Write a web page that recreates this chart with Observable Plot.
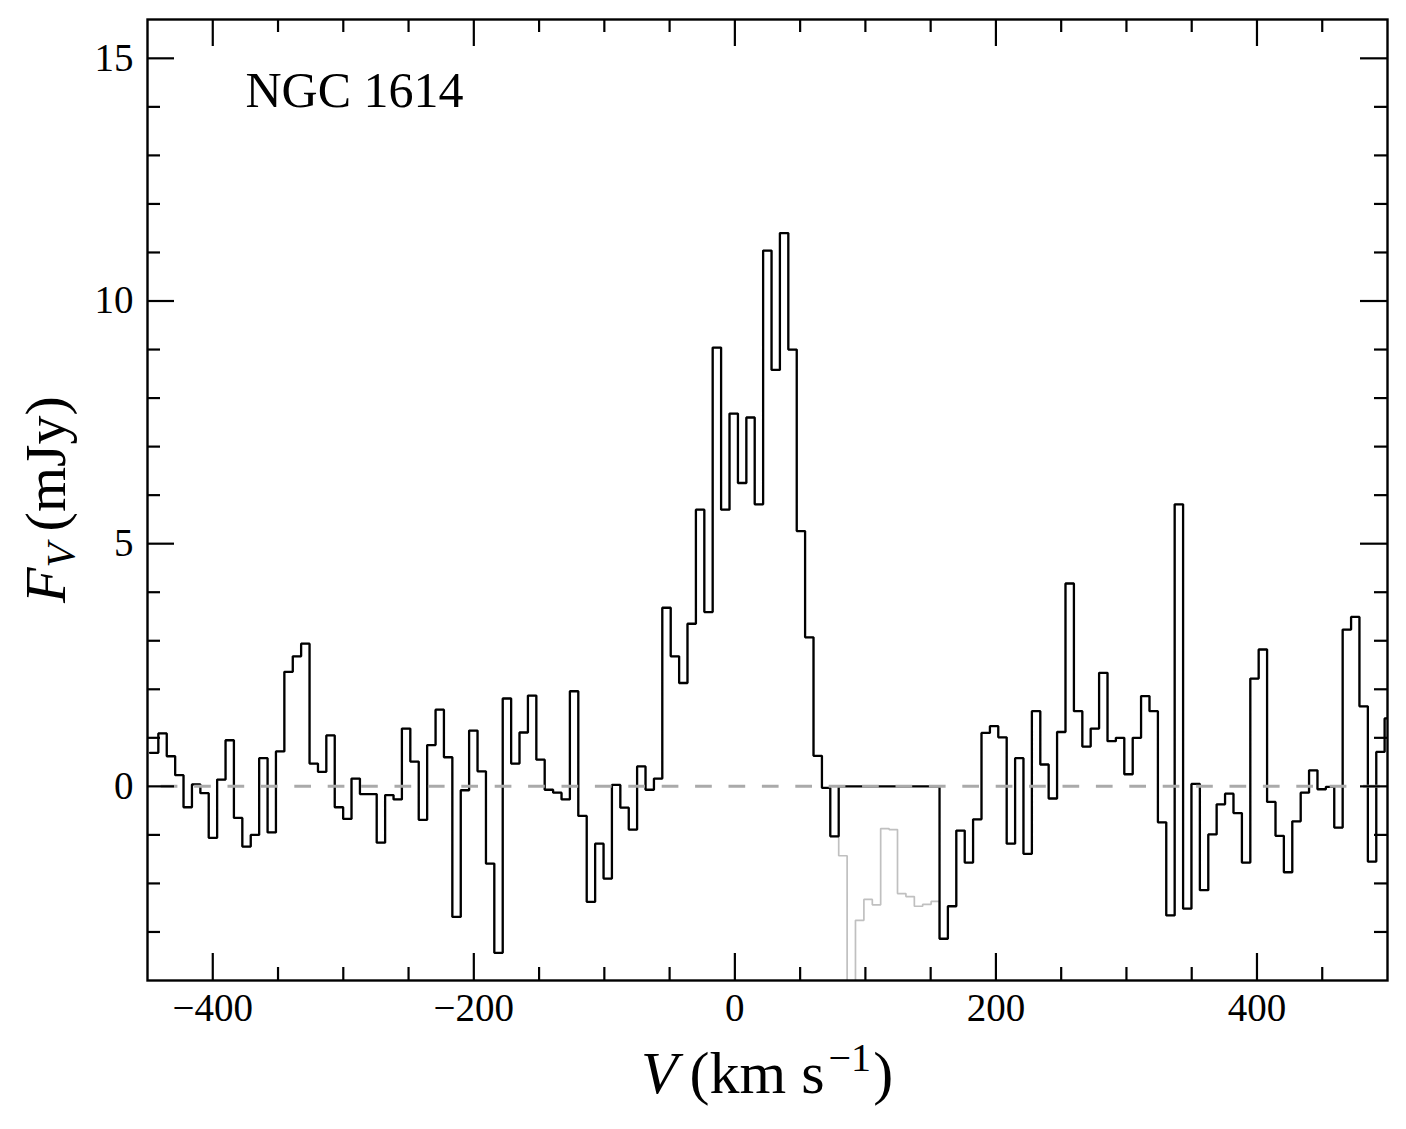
<!DOCTYPE html>
<html>
<head>
<meta charset="utf-8">
<script src="https://cdn.jsdelivr.net/npm/d3@7"></script>
<script src="https://cdn.jsdelivr.net/npm/@observablehq/plot@0.6"></script>
<style>
  html, body { margin: 0; padding: 0; background: #fff; }
  svg { display: block; }
</style>
</head>
<body>
<div id="chart"></div>
<script>
// Channel centre velocities (km/s)
const velocity = [
  -444.9, -438.5, -432.0, -425.6, -419.2, -412.7, -406.3, -399.9, -393.4, -387.0,
  -380.6, -374.1, -367.7, -361.2, -354.8, -348.4, -341.9, -335.5, -329.1, -322.6,
  -316.2, -309.8, -303.3, -296.9, -290.5, -284.0, -277.6, -271.2, -264.7, -258.3,
  -251.9, -245.4, -239.0, -232.5, -226.1, -219.7, -213.2, -206.8, -200.4, -193.9,
  -187.5, -181.1, -174.6, -168.2, -161.8, -155.3, -148.9, -142.5, -136.0, -129.6,
  -123.2, -116.7, -110.3, -103.8, -97.4, -91.0, -84.5, -78.1, -71.7, -65.2,
  -58.8, -52.4, -45.9, -39.5, -33.1, -26.6, -20.2, -13.8, -7.3, -0.9,
  5.6, 12.0, 18.4, 24.9, 31.3, 37.7, 44.2, 50.6, 57.0, 63.5,
  69.9, 76.3, 82.8, 89.2, 95.6, 102.1, 108.5, 114.9, 121.4, 127.8,
  134.3, 140.7, 147.1, 153.6, 160.0, 166.4, 172.9, 179.3, 185.7, 192.2,
  198.6, 205.0, 211.5, 217.9, 224.3, 230.8, 237.2, 243.6, 250.1, 256.5,
  263.0, 269.4, 275.8, 282.3, 288.7, 295.1, 301.6, 308.0, 314.4, 320.9,
  327.3, 333.7, 340.2, 346.6, 353.0, 359.5, 365.9, 372.3, 378.8, 385.2,
  391.7, 398.1, 404.5, 411.0, 417.4, 423.8, 430.3, 436.7, 443.1, 449.6,
  456.0, 462.4, 468.9, 475.3, 481.7, 488.2, 494.6, 501.0
];

// Observed flux density per channel (mJy), before masking
const flux = [
  0.69, 1.09, 0.62, 0.23, -0.43, 0.04, -0.14, -1.06, 0.14, 0.95,
  -0.65, -1.24, -1.00, 0.58, -0.95, 0.72, 2.36, 2.68, 2.94, 0.47,
  0.30, 1.05, -0.43, -0.67, 0.16, -0.16, -0.16, -1.16, -0.18, -0.27,
  1.19, 0.51, -0.69, 0.85, 1.58, 0.60, -2.69, -0.08, 1.15, 0.31,
  -1.59, -3.43, 1.81, 0.47, 1.11, 1.87, 0.55, -0.07, -0.13, -0.27,
  1.96, -0.61, -2.38, -1.18, -1.90, 0.03, -0.44, -0.89, 0.41, -0.07,
  0.16, 3.68, 2.68, 2.13, 3.35, 5.70, 3.59, 9.04, 5.70, 7.68,
  6.25, 7.60, 5.81, 11.04, 8.58, 11.40, 9.00, 5.26, 3.07, 0.63,
  -0.03, -1.03, -1.43, -6.00, -2.76, -2.33, -2.44, -0.87, -0.89, -2.21,
  -2.27, -2.47, -2.43, -2.37, -3.14, -2.47, -0.91, -1.57, -0.68, 1.10,
  1.24, 1.01, -1.18, 0.58, -1.39, 1.55, 0.45, -0.25, 1.12, 4.18,
  1.55, 0.82, 1.19, 2.34, 0.93, 1.00, 0.25, 1.00, 1.86, 1.55,
  -0.74, -2.66, 5.81, -2.52, 0.05, -2.14, -0.99, -0.37, -0.15, -0.55,
  -1.57, 2.22, 2.82, -0.32, -1.02, -1.77, -0.72, -0.13, 0.33, -0.06,
  -0.01, -0.85, 3.23, 3.49, 1.65, -1.55, 0.71, 1.40
];

// Channels (first and last index) that are masked (set to zero in the black spectrum)
const maskedChannels = [82, 93];

const xMajorTicks = [-400, -200, 0, 200, 400];
const xMinorTicks = [-350, -300, -250, -150, -100, -50, 50, 100, 150, 250, 300, 350, 450];
const yMajorTicks = [0, 5, 10, 15];
const yMinorTicks = [-3, -2, -1, 1, 2, 3, 4, 6, 7, 8, 9, 11, 12, 13, 14];

const galaxyName = "NGC 1614";

// ---------- layout ----------
const W = 1406, H = 1129;
const mL = 147, mR = 19, mT = 19, mB = 149;
const plotW = W - mL - mR, plotH = H - mT - mB;
const serif = "'Liberation Serif', 'Times New Roman', Times, serif";
const majorLen = 27, minorLen = 13;

const maskedFlux = flux.map((f, i) => (i >= maskedChannels[0] && i <= maskedChannels[1]) ? 0 : f);

function stepPoints(v, f) {
  const pts = [];
  for (let i = 0; i < v.length; i++) {
    const left = i === 0 ? v[0] - (v[1] - v[0]) / 2 : (v[i - 1] + v[i]) / 2;
    const right = i === v.length - 1 ? v[i] + (v[i] - v[i - 1]) / 2 : (v[i] + v[i + 1]) / 2;
    pts.push({x: left, y: f[i]}, {x: right, y: f[i]});
  }
  return pts;
}

const rawSteps = stepPoints(velocity, flux);
const maskedSteps = stepPoints(velocity, maskedFlux);

const tickStyle = {stroke: "black", strokeWidth: 2.2};

const chart = Plot.plot({
  width: W,
  height: H,
  marginLeft: mL,
  marginRight: mR,
  marginTop: mT,
  marginBottom: mB,
  x: {domain: [-450, 500], label: null},
  y: {domain: [-4, 15.8], label: null},
  style: {fontFamily: serif, background: "white", color: "black"},
  marks: [
    Plot.line(rawSteps, {x: "x", y: "y", stroke: "#c0c0c0", strokeWidth: 1.7, clip: true, strokeLinejoin: "miter", curve: "linear"}),
    Plot.line(maskedSteps, {x: "x", y: "y", stroke: "black", strokeWidth: 2.3, clip: true, strokeLinejoin: "miter", curve: "linear"}),
    Plot.ruleY([0], {stroke: "#aaaaaa", strokeWidth: 3, strokeDasharray: "16.7,16.7", strokeDashoffset: 19.7}),
    // inward ticks: bottom / top
    Plot.tickX(xMajorTicks, {x: d => d, insetTop: plotH - majorLen, ...tickStyle}),
    Plot.tickX(xMinorTicks, {x: d => d, insetTop: plotH - minorLen, ...tickStyle}),
    Plot.tickX(xMajorTicks, {x: d => d, insetBottom: plotH - majorLen, ...tickStyle}),
    Plot.tickX(xMinorTicks, {x: d => d, insetBottom: plotH - minorLen, ...tickStyle}),
    // inward ticks: left / right
    Plot.tickY(yMajorTicks, {y: d => d, insetRight: plotW - majorLen, ...tickStyle}),
    Plot.tickY(yMinorTicks, {y: d => d, insetRight: plotW - minorLen, ...tickStyle}),
    Plot.tickY(yMajorTicks, {y: d => d, insetLeft: plotW - majorLen, ...tickStyle}),
    Plot.tickY(yMinorTicks, {y: d => d, insetLeft: plotW - minorLen, ...tickStyle}),
    Plot.frame({stroke: "black", strokeWidth: 2.4}),
    Plot.axisX(xMajorTicks, {tickSize: 0, tickPadding: 13, fontSize: 39, label: null, fill: "black"}),
    Plot.axisY(yMajorTicks, {tickSize: 0, tickPadding: 14, fontSize: 39, label: null, fill: "black"}),
    Plot.text([galaxyName], {frameAnchor: "top-left", dx: 98, dy: 87, lineAnchor: "bottom", textAnchor: "start", fontSize: 50, fill: "black"})
  ]
});

document.getElementById("chart").append(chart);

// Axis titles with math-style italics
const svg = d3.select(chart);
const xl = svg.append("text")
  .attr("x", mL + plotW / 2)
  .attr("y", 1093)
  .attr("text-anchor", "middle")
  .attr("font-family", serif)
  .attr("font-size", 60)
  .attr("fill", "black");
xl.append("tspan").attr("font-style", "italic").text("V");
xl.append("tspan").text("\u2009(km s");
xl.append("tspan").attr("font-size", 40).attr("dy", -22).attr("dx", 4).text("\u22121");
xl.append("tspan").attr("dy", 22).attr("dx", 2).text(")");

const yl = svg.append("text")
  .attr("transform", `translate(65,${mT + plotH / 2}) rotate(-90)`)
  .attr("text-anchor", "middle")
  .attr("font-family", serif)
  .attr("font-size", 58)
  .attr("fill", "black");
yl.append("tspan").attr("font-style", "italic").text("F");
yl.append("tspan").attr("font-style", "italic").attr("font-size", 40).attr("dy", 9).text("V");
yl.append("tspan").attr("dy", -9).text("\u2009(mJy)");
</script>
</body>
</html>
